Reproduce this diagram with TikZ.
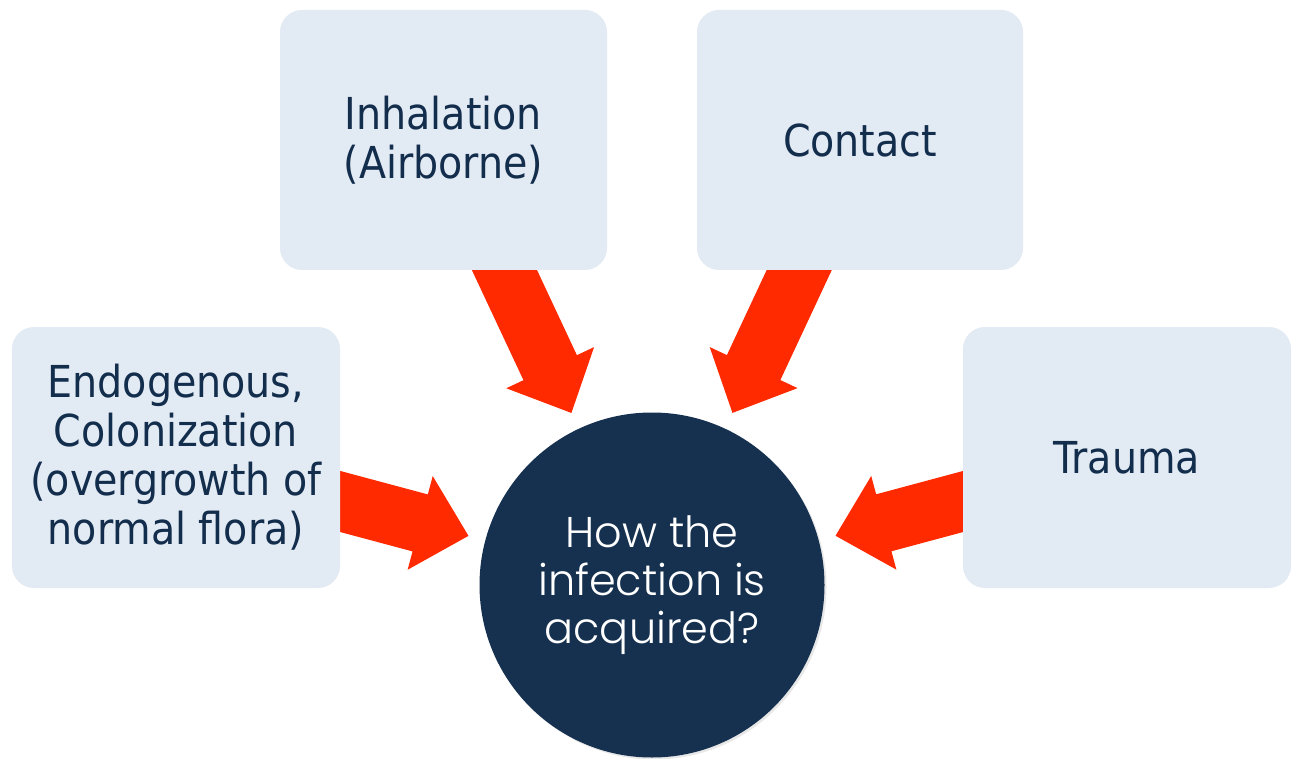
\documentclass[tikz,border=0pt]{standalone}
\usepackage{fontspec}
\newfontfamily\boxfont{DejaVu Sans Condensed}
\newfontfamily\circfont{Poppins Light}
\usetikzlibrary{calc,shadows}
\pgfdeclarelayer{background}
\pgfsetlayers{background,main}
\definecolor{boxfill}{HTML}{E2EAF4}
\definecolor{navy}{HTML}{16314F}
\definecolor{boxtext}{HTML}{132D4C}
\definecolor{arrowred}{HTML}{FF2A00}
% block arrow from node #1 towards node #2, tip 18pt outside #2 (radius 172pt)
\newcommand\blockarrowfromto[3]{%
  \coordinate (#3t) at ($(#2.center)!190pt!(#1.center)$);
  \coordinate (#3b) at ($(#3t)!50pt!(#1.center)$);
  \fill[arrowred]
    ($(#1.center)!29.5pt!90:(#3t)$) --
    ($(#3b)!29.5pt!-90:(#1.center)$) --
    ($(#3b)!48.5pt!-90:(#1.center)$) --
    (#3t) --
    ($(#3b)!48.5pt!90:(#1.center)$) --
    ($(#3b)!29.5pt!90:(#1.center)$) --
    ($(#1.center)!29.5pt!-90:(#3t)$) -- cycle;}
\begin{document}
\begin{tikzpicture}[x=1pt,y=-1pt,
  srcbox/.style={fill=boxfill, rounded corners=22pt, inner sep=0pt, outer sep=0pt,
    align=center, text=boxtext, font=\boxfont\fontsize{44}{49}\selectfont},
  hub/.style={circle, fill=navy, minimum size=345pt, inner sep=0pt, outer sep=0pt,
    align=center, text=white, font=\circfont\fontsize{43}{48}\selectfont,
    drop shadow={opacity=0.18, shadow xshift=2pt, shadow yshift=-2pt}}]
\useasboundingbox (0,0) rectangle (1295,759);
\node[srcbox, minimum width=327pt, minimum height=260pt] (inh) at (443.5,140) {Inhalation\\(Airborne)};
\node[srcbox, minimum width=326pt, minimum height=260pt] (con) at (860,140) {Contact};
\node[srcbox, minimum width=328pt, minimum height=261pt] (endo) at (176,457.5) {Endogenous,\\Colonization\\(overgrowth of\\normal flora)};
\node[srcbox, minimum width=328pt, minimum height=261pt] (tra) at (1127,457.5) {Trauma};
\node[hub] (hub) at (652,585) {\raisebox{-4pt}{\parbox{300pt}{\centering How the\\infection is\\acquired?}}};
\begin{pgfonlayer}{background}
\blockarrowfromto{inh}{hub}{a1}
\blockarrowfromto{con}{hub}{a2}
\blockarrowfromto{endo}{hub}{a3}
\blockarrowfromto{tra}{hub}{a4}
\end{pgfonlayer}
\end{tikzpicture}
\end{document}
